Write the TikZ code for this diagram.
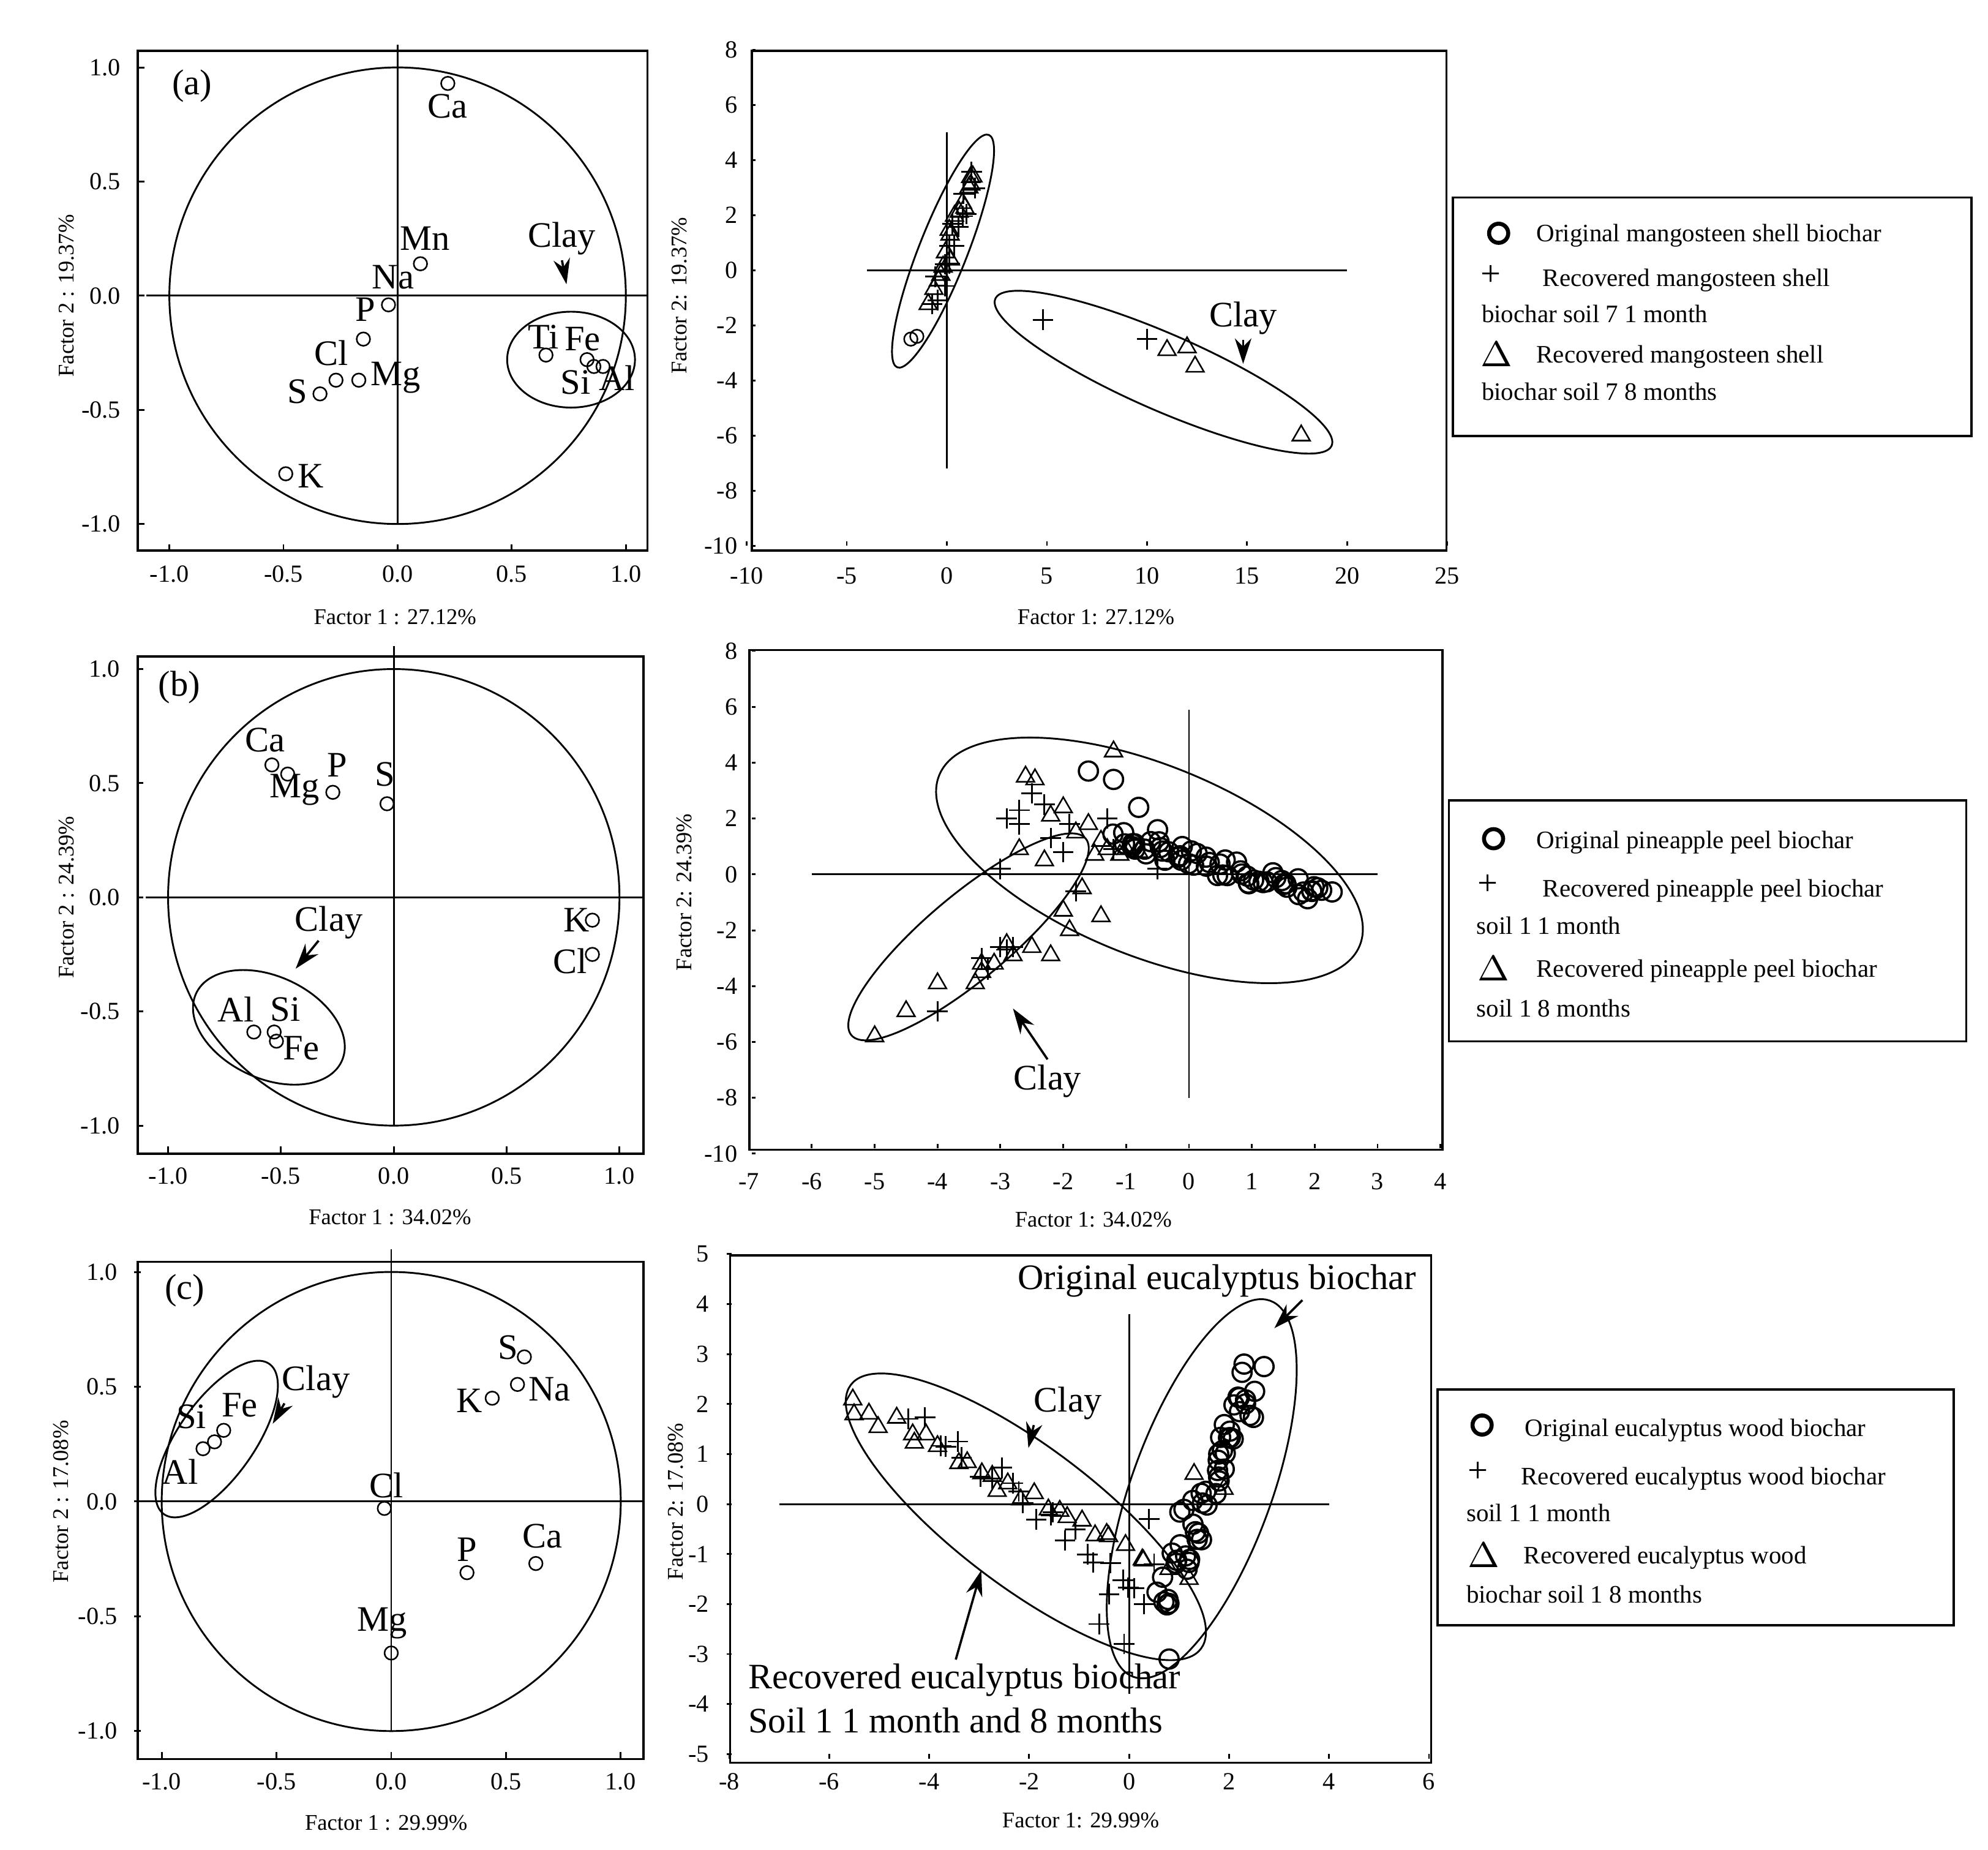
\documentclass[tikz,border=0pt]{standalone}
\usepackage{fontspec}
\setmainfont{Liberation Serif}
\usetikzlibrary{shapes.geometric,shapes.misc,arrows.meta}
\tikzset{
 mc/.style={circle,draw,inner sep=0pt,minimum size=0.105cm,line width=0.35pt},
 mcb/.style={circle,draw,inner sep=0pt,minimum size=0.15cm,line width=0.5pt},
 mp/.style={cross out,draw,rotate=45,inner sep=0pt,minimum size=0.1cm,line width=0.4pt},
 mt/.style={regular polygon,regular polygon sides=3,draw,inner sep=0pt,minimum size=0.16cm,line width=0.35pt},
 el/.style={font=\fontsize{8}{9}\selectfont,inner sep=1pt},
 tk/.style={font=\fontsize{5.5}{6}\selectfont,inner sep=1pt},
 axt/.style={font=\fontsize{5}{6}\selectfont,inner sep=1pt},
 lg/.style={font=\fontsize{5.6}{7}\selectfont,anchor=west,inner sep=0pt},
 lgs/.style={font=\fontsize{8}{9}\selectfont,anchor=west,inner sep=0pt},
 fr/.style={line width=0.5pt},
 ar/.style={-{Stealth[length=0.2cm,width=0.13cm]},line width=0.5pt},
 ln/.style={line width=0.4pt}
}
\begin{document}
\begin{tikzpicture}[x=0.01cm,y=-0.01cm]
\useasboundingbox (0,0) rectangle (1560,1451);
\fill[white] (0,0) rectangle (1560,1451);
% ================= (a) left
\draw[fr] (108,40) rectangle (508,432);
\begin{scope}[shift={(312,232)},x=1.79cm,y=1.79cm]
\draw[ln] (0,0) circle (1);
\draw[ln] (-1.1,0)--(1.1,0); \draw[ln] (0,1.1)--(0,-1);
\foreach \v/\l in {-1/-1.0,-0.5/-0.5,0/0.0,0.5/0.5,1/1.0}{
 \draw[ln] (\v,-1.12)--(\v,-1.09);
 \node[tk] at (\v,-1.22) {\l};
 \draw[ln] (-1.14,\v)--(-1.11,\v);
 \node[tk,anchor=east] at (-1.19,\v) {\l};}
\node[mc] (aca) at (0.22,0.93) {}; \node[el] (laca) at (0.22,0.83) {Ca};
\node[mc] (amn) at (0.1,0.14) {}; \node[el] at (0.12,0.25) {Mn};
\node[el] at (-0.02,0.08) {Na};
\node[mc] (ap) at (-0.04,-0.04) {}; \node[el] at (-0.14,-0.06) {P};
\node[mc] (acl) at (-0.15,-0.19) {}; \node[el] at (-0.29,-0.25) {Cl};
\node[mc] at (-0.27,-0.37) {}; \node[mc] at (-0.17,-0.37) {};
\node[mc] at (-0.34,-0.43) {}; \node[el] at (-0.44,-0.42) {S};
\node[el] at (-0.01,-0.36) {Mg};
\node[mc] (ak) at (-0.49,-0.78) {}; \node[el] at (-0.38,-0.79) {K};
\node[mc] at (0.65,-0.26) {}; \node[el] at (0.64,-0.18) {Ti};
\node[mc] at (0.83,-0.28) {}; \node[el] at (0.81,-0.19) {Fe};
\node[mc] at (0.86,-0.31) {}; \node[el] at (0.78,-0.38) {Si};
\node[mc] at (0.9,-0.31) {}; \node[el] at (0.96,-0.36) {Al};
\draw[ln] (0.76,-0.28) ellipse (0.28 and 0.21);
\node[el] (aclay) at (0.72,0.25) {Clay};
\coordinate (aclayt) at (0.74,0.05);
\draw[ar] (aclay.south) -- (aclayt);
\node[el] at (-0.9,0.92) {(a)};
\end{scope}
\node[axt] at (310,484) {Factor 1 : 27.12\%};
\node[axt,rotate=90] at (52,232) {Factor 2 : 19.37\%};
% ================= (a) right
\draw[fr] (590,40) rectangle (1135,432);
\begin{scope}[shift={(743,212)},x=0.157cm,y=0.216cm]
\draw[ln] (-4,0)--(20,0); \draw[ln] (0,5)--(0,-7.2);
\foreach \v in {-10,-5,0,5,10,15,20,25}{\draw[ln] (\v,-10)--(\v,-9.85); \node[tk] at (\v,-11.1) {\v};}
\foreach \v in {-10,-8,-6,-4,-2,0,2,4,6,8}{\draw[ln] (-9.7,\v)--(-9.55,\v); \node[tk,anchor=east] at (-10.2,\v) {\v};}
\pgfmathsetseed{7}
\foreach \t in {0,...,22}{
 \pgfmathsetmacro\xx{-0.9+0.1*\t+0.25*rand}\pgfmathsetmacro\yy{-1.3+0.21*\t+0.3*rand}
 \pgfmathtruncatemacro\m{mod(\t,3)}
 \ifnum\m=0 \node[mt] at (\xx,\yy) {};\else\ifnum\m=1 \node[mp] at (\xx,\yy) {};\else \node[mt] at (\xx,\yy+0.2) {};\node[mp] at (\xx+0.2,\yy-0.2) {};\fi\fi}
\node[mt] at (1.3,3.4) {}; \node[mt] at (1.1,3.0) {};
\node[mc] at (-1.5,-2.4) {}; \node[mc] at (-1.8,-2.5) {};
\node[mp] at (4.8,-1.8) {}; \node[mp] at (10,-2.5) {};
\node[mt] at (11,-2.9) {}; \node[mt] at (12,-2.8) {}; \node[mt] at (12.4,-3.5) {}; \node[mt] at (17.7,-6) {};
\node[el] (bclay) at (14.8,-1.75) {Clay};
\coordinate (bclayt) at (14.8,-3.4);
\draw[ar] (bclay.south) -- (bclayt);
\end{scope}
\draw[ln] (740,197) ellipse[x radius=98,y radius=19,rotate=68.5];
\draw[ln] (913,292) ellipse[x radius=144,y radius=30,rotate=-23.6];
\node[axt] at (860,484) {Factor 1: 27.12\%};
\node[axt,rotate=90] at (533,232) {Factor 2: 19.37\%};
% legend a
\draw[fr] (1140,155) rectangle (1547,342);
\node[mcb,line width=0.9pt] (la1) at (1176,183) {}; \node[lg] at (1205,185) {Original mangosteen shell biochar};
\node[lgs] at (1161,216) {+}; \node[lg] at (1210,220) {Recovered mangosteen shell};
\node[lg] at (1162,246) {biochar soil 7 1 month};
\node[lgs] at (1161,278) {$\Delta$}; \node[lg] at (1205,280) {Recovered mangosteen shell};
\node[lg] at (1162,307) {biochar soil 7 8 months};
% ================= (b) left
\draw[fr] (108,515) rectangle (505,905);
\begin{scope}[shift={(309,704)},x=1.77cm,y=1.79cm]
\draw[ln] (0,0) circle (1);
\draw[ln] (-1.1,0)--(1.1,0); \draw[ln] (0,1.1)--(0,-1);
\foreach \v/\l in {-1/-1.0,-0.5/-0.5,0/0.0,0.5/0.5,1/1.0}{
 \draw[ln] (\v,-1.12)--(\v,-1.09);
 \node[tk] at (\v,-1.22) {\l};
 \draw[ln] (-1.14,\v)--(-1.11,\v);
 \node[tk,anchor=east] at (-1.19,\v) {\l};}
\node[mc] at (-0.54,0.58) {}; \node[el] at (-0.57,0.69) {Ca};
\node[mc] at (-0.47,0.54) {}; \node[el] at (-0.44,0.47) {Mg};
\node[mc] at (-0.27,0.46) {}; \node[el] at (-0.25,0.58) {P};
\node[mc] at (-0.03,0.41) {}; \node[el] at (-0.04,0.54) {S};
\node[mc] at (0.88,-0.1) {}; \node[el] at (0.81,-0.1) {K};
\node[mc] at (0.88,-0.25) {}; \node[el] at (0.78,-0.28) {Cl};
\node[mc] at (-0.62,-0.59) {}; \node[el] at (-0.7,-0.49) {Al};
\node[mc] at (-0.53,-0.59) {}; \node[mc] at (-0.52,-0.63) {}; \node[el] at (-0.48,-0.49) {Si};
\node[el] at (-0.41,-0.66) {Fe};
\node[el] at (-0.95,0.92) {(b)};
\end{scope}
\draw[ln] (211,806) ellipse[x radius=63,y radius=40,rotate=-25];
\node[el] (cclay) at (258,724) {Clay};
\coordinate (cclayt) at (232,760);
\draw[ar] (250,738) -- (cclayt);
\node[axt] at (306,955) {Factor 1 : 34.02\%};
\node[axt,rotate=90] at (52,704) {Factor 2 : 24.39\%};
% ================= (b) right
\draw[fr] (588,510) rectangle (1132,902);
\begin{scope}[shift={(933,686)},x=0.493cm,y=0.219cm]
\draw[ln] (-6,0)--(3,0); \draw[ln] (0,5.9)--(0,-8);
\foreach \v in {-7,...,4}{\draw[ln] (\v,-9.8)--(\v,-9.65); \node[tk] at (\v,-11) {\v};}
\foreach \v in {-10,-8,-6,-4,-2,0,2,4,6,8}{\draw[ln] (-6.95,\v)--(-6.9,\v); \node[tk,anchor=east] at (-7.1,\v) {\v};}
\pgfmathsetseed{3}
\foreach \t in {0,...,55}{
 \pgfmathsetmacro\xx{-1.1+3.3*\t/55+0.12*rand}\pgfmathsetmacro\yy{1.3-2.1*\t/55+0.35*rand}
 \node[mcb] at (\xx,\yy) {};}
\foreach \p in {(-1.6,3.7),(-1.2,3.4),(-0.8,2.4),(-0.5,1.6),(-0.9,1.1)} \node[mcb] at \p {};
\foreach \p in {(-2.6,3.5),(-2.45,3.4),(-1.2,4.4),(-2.2,2.1),(-1.8,1.5),(-1.5,0.7),(-2.7,0.9),(-2.3,0.5),(-1.7,-0.5),(-1.4,-1.5),(-1.9,-2),(-2,-1.3),(-2.5,-2.6),(-2.8,-2.9),(-3.1,-3.2),(-3.3,-3.5),(-3.4,-3.9),(-4,-3.9),(-4.5,-4.9),(-5,-5.8),(-1.3,0.9),(-1.1,0.7),(-1.6,1.8),(-1.4,1.2),(-2.0,2.4),(-3.3,-3.2),(-2.9,-2.5),(-2.2,-2.9),(-1.0,0.9),(-0.8,0.8)} \node[mt] at \p {};
\foreach \p in {(-4,-4.9),(-3.3,-3),(-3,-2.6),(-2.9,-2.7),(-1.8,-0.6),(-2,0.8),(-1.2,0.9),(-0.5,0.2),(-2.7,2.3),(-2.2,1.3),(-2.9,2),(-2.5,2.9),(-2.3,2.5),(-3,0.2),(-2.7,1.8),(-1.9,1.8),(-1.3,2.0),(-3.2,-3.4),(-2.8,-2.6)} \node[mp] at \p {};
\node[el] (dclay) at (-2.25,-7.4) {Clay};
\coordinate (dclayt) at (-2.8,-4.8);
\draw[ar] (dclay.north) -- (dclayt);
\end{scope}
\draw[ln] (902,675) ellipse[x radius=178,y radius=75,rotate=-22];
\draw[ln] (760,735) ellipse[x radius=120,y radius=33,rotate=40];
\node[axt] at (858,957) {Factor 1: 34.02\%};
\node[axt,rotate=90] at (537,700) {Factor 2: 24.39\%};
% legend b
\draw[fr] (1137,628) rectangle (1543,817);
\node[mcb,line width=0.9pt] at (1172,658) {}; \node[lg] at (1205,661) {Original pineapple peel biochar};
\node[lgs] at (1159,694) {+}; \node[lg] at (1210,699) {Recovered pineapple peel biochar};
\node[lg] at (1158,726) {soil 1 1 month};
\node[lgs] at (1159,760) {$\Delta$}; \node[lg] at (1205,762) {Recovered pineapple peel biochar};
\node[lg] at (1158,791) {soil 1 8 months};
% ================= (c) left
\draw[fr] (108,990) rectangle (505,1380);
\begin{scope}[shift={(307,1178)},x=1.8cm,y=1.8cm]
\draw[ln] (0,0) circle (1);
\draw[ln] (-1.1,0)--(1.1,0); \draw[ln] (0,1.1)--(0,-1);
\foreach \v/\l in {-1/-1.0,-0.5/-0.5,0/0.0,0.5/0.5,1/1.0}{
 \draw[ln] (\v,-1.12)--(\v,-1.09);
 \node[tk] at (\v,-1.22) {\l};
 \draw[ln] (-1.12,\v)--(-1.09,\v);
 \node[tk,anchor=east] at (-1.17,\v) {\l};}
\node[mc] at (0.58,0.63) {}; \node[el] at (0.51,0.67) {S};
\node[mc] at (0.55,0.51) {}; \node[el] at (0.69,0.49) {Na};
\node[mc] at (0.44,0.45) {}; \node[el] at (0.34,0.44) {K};
\node[mc] at (-0.03,-0.03) {}; \node[el] at (-0.02,0.07) {Cl};
\node[mc] at (0.33,-0.31) {}; \node[el] at (0.33,-0.21) {P};
\node[mc] at (0.63,-0.27) {}; \node[el] at (0.66,-0.15) {Ca};
\node[mc] at (0,-0.66) {}; \node[el] at (-0.04,-0.53) {Mg};
\node[mc] at (-0.82,0.23) {}; \node[el] at (-0.92,0.13) {Al};
\node[mc] at (-0.77,0.26) {}; \node[el] at (-0.87,0.37) {Si};
\node[mc] at (-0.73,0.31) {}; \node[el] at (-0.66,0.42) {Fe};
\node[el] at (-0.9,0.92) {(c)};
\end{scope}
\draw[ln] (170,1129) ellipse[x radius=72,y radius=30,rotate=55];
\node[el] (eclay) at (248,1084) {Clay};
\coordinate (eclayt) at (214,1117);
\draw[ar] (eclay.south west) ++(6,0) -- (eclayt);
\node[axt] at (303,1430) {Factor 1 : 29.99\%};
\node[axt,rotate=90] at (48,1178) {Factor 2 : 17.08\%};
% ================= (c) right
\draw[fr] (573,985) rectangle (1123,1383);
\begin{scope}[shift={(886,1180)},x=0.392cm,y=0.392cm]
\draw[ln] (-7,0)--(4,0); \draw[ln] (0,3.8)--(0,-3.8);
\foreach \v in {-8,-6,-4,-2,0,2,4,6}{\draw[ln] (\v,-5.1)--(\v,-5.0); \node[tk] at (\v,-5.55) {\v};}
\foreach \v in {-5,...,5}{\draw[ln] (-8.05,\v)--(-7.95,\v); \node[tk,anchor=east] at (-8.3,\v) {\v};}
\pgfmathsetseed{11}
\foreach \t in {0,...,50}{
 \pgfmathsetmacro\xx{0.6+1.8*\t/50+0.3*rand}\pgfmathsetmacro\yy{-2+4.5*\t/50+0.35*rand}
 \node[mcb] at (\xx,\yy) {};}
\node[mcb] at (0.8,-3.1) {}; \node[mcb] at (2.3,2.8) {}; \node[mcb] at (2.7,2.75) {};
\pgfmathsetseed{5}
\foreach \t in {0,...,26}{
 \pgfmathsetmacro\xx{-5.6+6*\t/26+0.15*rand}\pgfmathsetmacro\yy{2.1-3.3*\t/26+0.2*rand}
 \node[mt] at (\xx,\yy) {};}
\foreach \t in {0,...,22}{
 \pgfmathsetmacro\xx{-4.3+4.5*\t/22+0.15*rand}\pgfmathsetmacro\yy{1.7-3.3*\t/22+0.25*rand}
 \node[mp] at (\xx,\yy) {};}
\foreach \p in {(-0.6,-2.4),(-0.1,-2.8),(0.3,-2.0),(-0.4,-1.8),(0.5,-1.2),(0.4,-0.3)} \node[mp] at \p {};
\foreach \p in {(0.8,-1.3),(1.2,-1.5),(1.3,0.6),(1.9,0.3)} \node[mt] at \p {};
\end{scope}
\draw[ln] (943,1168) ellipse[x radius=157,y radius=55,rotate=70];
\draw[ln] (805,1190) ellipse[x radius=172,y radius=55,rotate=-37];
\node[el] (forig) at (955,1005) {Original eucalyptus biochar};
\coordinate (forigs) at (1022,1020);
\coordinate (forigt) at (1000,1042);
\draw[ar] (forigs) -- (forigt);
\node[el] (fclay) at (838,1101) {Clay};
\coordinate (fclayt) at (807,1136);
\draw[ar] (fclay.south west) ++(4,0) -- (fclayt);
\node[el,anchor=west] (frec) at (583,1318) {Recovered eucalyptus biochar};
\node[el,anchor=west] at (583,1350) {Soil 1 1 month and 8 months};
\coordinate (frect) at (770,1232);
\draw[ar] (750,1302) -- (frect);
\node[axt] at (848,1428) {Factor 1: 29.99\%};
\node[axt,rotate=90] at (530,1178) {Factor 2: 17.08\%};
% legend c
\draw[fr] (1128,1090) rectangle (1533,1275);
\node[mcb,line width=0.9pt] at (1163,1118) {}; \node[lg] at (1196,1122) {Original eucalyptus wood biochar};
\node[lgs] at (1151,1155) {+}; \node[lg] at (1193,1160) {Recovered eucalyptus wood biochar};
\node[lg] at (1150,1187) {soil 1 1 month};
\node[lgs] at (1151,1220) {$\Delta$}; \node[lg] at (1195,1222) {Recovered eucalyptus wood};
\node[lg] at (1150,1251) {biochar soil 1 8 months};
\end{tikzpicture}
\end{document}
